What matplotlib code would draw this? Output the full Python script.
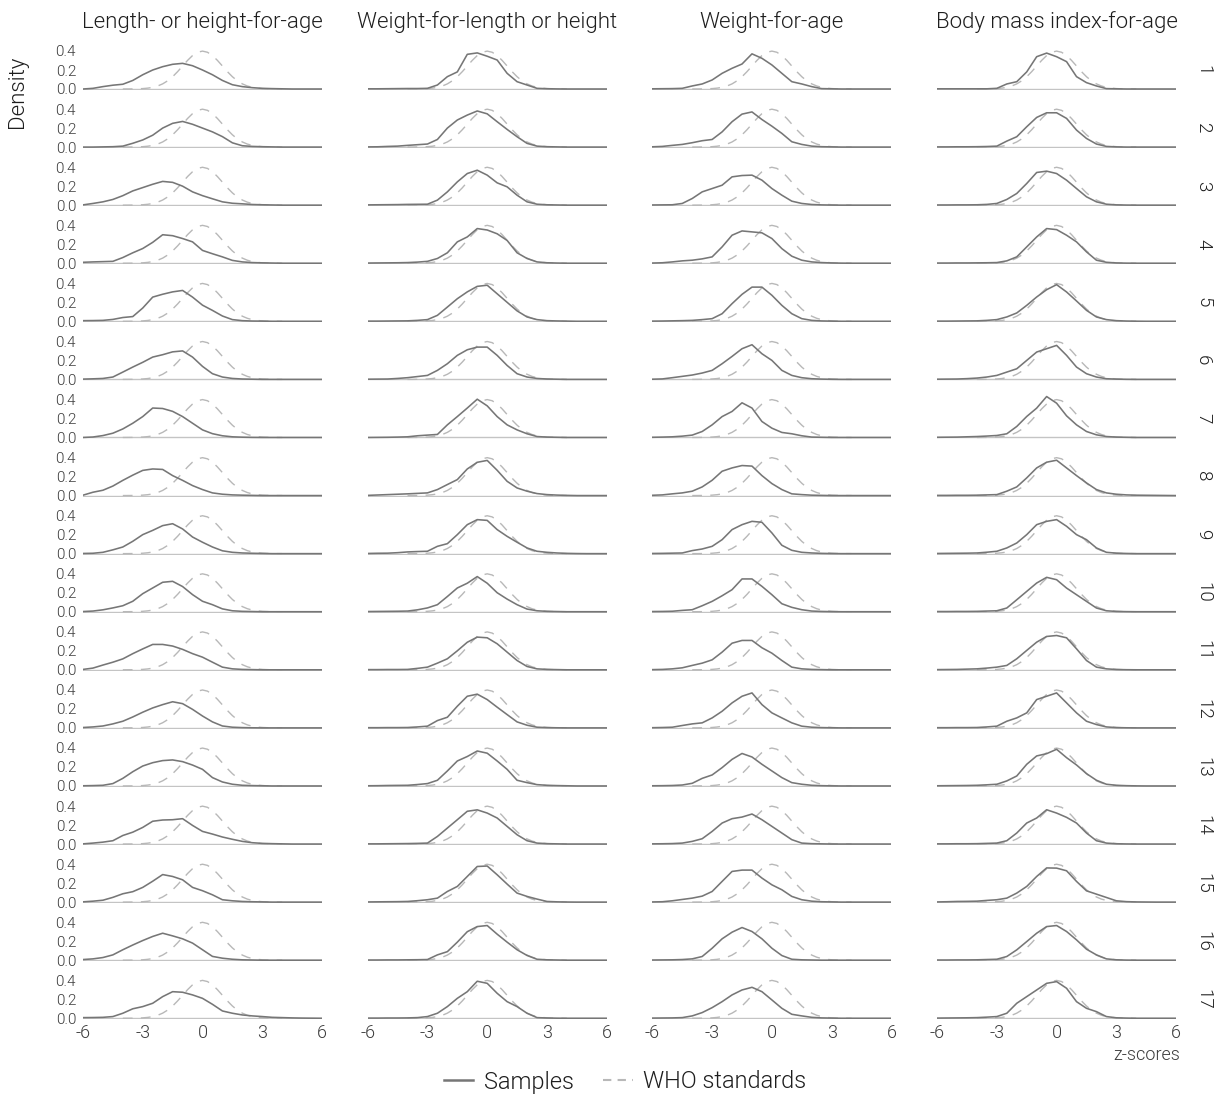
import matplotlib
matplotlib.use("Agg")
import matplotlib.pyplot as plt
from matplotlib.lines import Line2D

plt.rcParams['font.family'] = ['Roboto', 'DejaVu Sans']
plt.rcParams['font.weight'] = 300

# z-score grid shared by all sample density curves
z_grid = [-6, -5.5, -5, -4.5, -4, -3.5, -3, -2.5, -2, -1.5, -1, -0.5, 0,
          0.5, 1, 1.5, 2, 2.5, 3, 3.5, 4, 4.5, 5, 5.5, 6]

# WHO reference: standard normal density
who_z = [-4, -3.75, -3.5, -3.25, -3, -2.75, -2.5, -2.25, -2, -1.75, -1.5, -1.25,
         -1, -0.75, -0.5, -0.25, 0, 0.25, 0.5, 0.75, 1, 1.25, 1.5, 1.75, 2,
         2.25, 2.5, 2.75, 3, 3.25, 3.5, 3.75, 4]
who_density = [0.0001, 0.0004, 0.0009, 0.002, 0.0044, 0.0091, 0.0175, 0.0317,
               0.054, 0.0863, 0.1295, 0.1826, 0.242, 0.3011, 0.3521, 0.3867,
               0.3989, 0.3867, 0.3521, 0.3011, 0.242, 0.1826, 0.1295, 0.0863,
               0.054, 0.0317, 0.0175, 0.0091, 0.0044, 0.002, 0.0009, 0.0004, 0.0001]

indicators = ["Length- or height-for-age", "Weight-for-length or height",
              "Weight-for-age", "Body mass index-for-age"]
groups = [str(i) for i in range(1, 18)]

# Sample densities, one row per group (1..17)
haz = [
    [0, .007, .025, .04, .05, .09, .15, .20, .235, .26, .27, .245, .20, .15, .09, .045, .025, .014, .007, .004, .002, 0, 0, 0, 0],
    [0, 0, .002, .004, .01, .04, .075, .125, .20, .25, .27, .24, .20, .16, .11, .045, .014, .007, .004, .002, 0, 0, 0, 0, 0],
    [.003, .018, .035, .06, .10, .15, .185, .22, .25, .24, .20, .14, .10, .067, .035, .02, .014, .007, .004, .002, 0, 0, 0, 0, 0],
    [.01, .014, .017, .02, .06, .11, .155, .22, .30, .29, .26, .225, .135, .10, .067, .03, .014, .007, .004, .002, 0, 0, 0, 0, 0],
    [.007, .008, .01, .02, .04, .05, .14, .255, .285, .31, .325, .255, .17, .115, .056, .018, .007, .003, .002, 0, 0, 0, 0, 0, 0],
    [.003, .006, .01, .025, .077, .13, .18, .235, .26, .29, .30, .235, .137, .06, .025, .01, .004, .002, 0, 0, 0, 0, 0, 0, 0],
    [0, .005, .02, .045, .09, .15, .22, .31, .305, .275, .22, .15, .08, .04, .018, .007, .003, .001, 0, 0, 0, 0, 0, 0, 0],
    [.004, .035, .056, .10, .16, .215, .265, .28, .275, .21, .16, .105, .063, .028, .014, .007, .004, .002, 0, 0, 0, 0, 0, 0, 0],
    [.002, .004, .014, .04, .07, .13, .20, .245, .295, .315, .26, .175, .12, .07, .03, .014, .007, .004, .002, 0, 0, 0, 0, 0, 0],
    [.002, .007, .02, .04, .063, .11, .19, .25, .31, .32, .265, .18, .11, .074, .03, .01, .004, .002, 0, 0, 0, 0, 0, 0, 0],
    [.004, .018, .05, .08, .115, .17, .22, .267, .267, .25, .215, .17, .133, .08, .028, .01, .004, .002, 0, 0, 0, 0, 0, 0, 0],
    [.004, .01, .02, .042, .07, .115, .165, .21, .245, .275, .255, .195, .125, .063, .02, .007, .003, .001, 0, 0, 0, 0, 0, 0, 0],
    [.002, .004, .007, .025, .08, .15, .21, .245, .267, .274, .256, .22, .175, .088, .042, .018, .007, .004, .002, 0, 0, 0, 0, 0, 0],
    [.002, .01, .02, .035, .09, .125, .175, .24, .253, .256, .267, .196, .133, .105, .074, .05, .028, .014, .007, .004, .002, 0, 0, 0, 0],
    [.003, .01, .02, .05, .088, .11, .155, .22, .29, .27, .235, .155, .12, .077, .025, .014, .007, .004, .002, 0, 0, 0, 0, 0, 0],
    [.007, .014, .028, .056, .11, .16, .207, .25, .284, .256, .225, .18, .11, .04, .021, .01, .004, .002, 0, 0, 0, 0, 0, 0, 0],
    [.007, .008, .01, .018, .053, .10, .123, .158, .228, .28, .274, .246, .21, .147, .077, .053, .035, .025, .018, .01, .007, .004, .002, .001, 0],
]

whz = [
    [.002, .002, .003, .004, .005, .005, .007, .042, .13, .18, .365, .38, .345, .305, .165, .077, .042, .007, .003, .001, 0, 0, 0, 0, 0],
    [.002, .003, .007, .01, .018, .025, .032, .08, .20, .285, .337, .38, .35, .267, .186, .109, .039, .01, .004, .002, 0, 0, 0, 0, 0],
    [.003, .004, .005, .006, .008, .009, .01, .053, .14, .245, .333, .368, .316, .235, .193, .105, .035, .01, .004, .002, 0, 0, 0, 0, 0],
    [.002, .003, .004, .005, .007, .012, .02, .05, .11, .225, .277, .365, .35, .31, .24, .11, .05, .014, .005, .002, 0, 0, 0, 0, 0],
    [.002, .002, .003, .004, .005, .01, .018, .063, .15, .238, .31, .368, .38, .29, .20, .11, .046, .018, .007, .004, .002, 0, 0, 0, 0],
    [.002, .003, .004, .01, .018, .03, .042, .095, .165, .253, .312, .34, .34, .253, .147, .06, .025, .01, .004, .002, 0, 0, 0, 0, 0],
    [0, .001, .002, .004, .007, .018, .025, .032, .133, .22, .31, .403, .333, .22, .133, .08, .039, .01, .004, .002, 0, 0, 0, 0, 0],
    [.002, .006, .01, .014, .018, .023, .028, .063, .116, .168, .28, .35, .37, .266, .15, .08, .046, .021, .01, .005, .002, 0, 0, 0, 0],
    [.002, .004, .005, .01, .018, .022, .025, .077, .105, .20, .305, .358, .35, .253, .182, .12, .06, .025, .014, .007, .003, .001, 0, 0, 0],
    [.002, .003, .004, .005, .007, .02, .04, .074, .16, .25, .30, .37, .30, .20, .133, .074, .028, .01, .004, .002, 0, 0, 0, 0, 0],
    [.002, .002, .003, .003, .004, .015, .028, .07, .116, .20, .29, .344, .337, .274, .186, .098, .035, .01, .004, .002, 0, 0, 0, 0, 0],
    [.002, .002, .003, .003, .004, .01, .018, .077, .112, .228, .333, .355, .298, .218, .14, .063, .028, .007, .003, .001, 0, 0, 0, 0, 0],
    [.002, .003, .005, .006, .007, .015, .025, .06, .158, .263, .31, .368, .345, .263, .175, .06, .035, .014, .007, .004, .002, 0, 0, 0, 0],
    [.002, .002, .003, .004, .005, .007, .01, .08, .168, .256, .345, .36, .326, .274, .186, .098, .035, .01, .004, .002, 0, 0, 0, 0, 0],
    [.002, .003, .004, .005, .007, .015, .025, .042, .112, .165, .27, .375, .38, .288, .19, .095, .06, .032, .007, .003, .001, 0, 0, 0, 0],
    [.002, .002, .003, .003, .004, .005, .007, .056, .09, .19, .30, .354, .365, .274, .19, .11, .05, .01, .004, .002, 0, 0, 0, 0, 0],
    [.002, .002, .003, .003, .004, .007, .018, .053, .123, .21, .28, .39, .368, .263, .175, .123, .053, .007, .003, .001, 0, 0, 0, 0, 0],
]

waz = [
    [.002, .003, .004, .007, .032, .053, .095, .165, .218, .263, .37, .323, .253, .165, .077, .053, .025, .004, .002, 0, 0, 0, 0, 0, 0],
    [.003, .007, .018, .028, .046, .067, .08, .16, .267, .347, .37, .29, .22, .144, .056, .028, .01, .004, .002, 0, 0, 0, 0, 0, 0],
    [.002, .003, .004, .018, .07, .14, .175, .21, .298, .312, .316, .263, .175, .105, .042, .018, .007, .003, .001, 0, 0, 0, 0, 0, 0],
    [.002, .005, .014, .025, .032, .046, .067, .172, .295, .34, .33, .32, .26, .154, .074, .032, .014, .007, .003, .001, 0, 0, 0, 0, 0],
    [.002, .003, .005, .007, .01, .018, .028, .08, .186, .284, .36, .36, .274, .168, .08, .028, .01, .004, .002, 0, 0, 0, 0, 0, 0],
    [.002, .005, .018, .032, .046, .067, .095, .165, .242, .323, .365, .27, .20, .095, .042, .018, .007, .003, .001, 0, 0, 0, 0, 0, 0],
    [.002, .004, .007, .014, .025, .063, .133, .22, .274, .365, .31, .168, .098, .053, .039, .018, .004, .002, 0, 0, 0, 0, 0, 0, 0],
    [.003, .007, .018, .028, .046, .091, .161, .256, .291, .316, .31, .21, .126, .063, .018, .01, .004, .002, 0, 0, 0, 0, 0, 0, 0],
    [.002, .003, .005, .007, .032, .049, .077, .147, .253, .305, .34, .33, .218, .088, .035, .014, .007, .003, .001, 0, 0, 0, 0, 0, 0],
    [.002, .003, .005, .014, .021, .063, .109, .168, .232, .345, .345, .267, .179, .084, .046, .021, .007, .003, .001, 0, 0, 0, 0, 0, 0],
    [.002, .004, .01, .021, .046, .07, .105, .186, .28, .309, .309, .232, .175, .098, .028, .01, .004, .002, 0, 0, 0, 0, 0, 0, 0],
    [.002, .004, .007, .025, .042, .053, .105, .175, .263, .333, .368, .245, .158, .105, .053, .018, .007, .003, .001, 0, 0, 0, 0, 0, 0],
    [.002, .003, .005, .01, .028, .08, .116, .193, .28, .342, .305, .228, .158, .088, .035, .018, .007, .003, .001, 0, 0, 0, 0, 0, 0],
    [.002, .003, .005, .01, .028, .056, .133, .221, .267, .284, .316, .256, .186, .116, .046, .01, .004, .002, 0, 0, 0, 0, 0, 0, 0],
    [.002, .004, .014, .028, .042, .063, .112, .218, .323, .337, .337, .253, .182, .13, .06, .025, .01, .004, .002, 0, 0, 0, 0, 0, 0],
    [.002, .003, .004, .007, .014, .039, .126, .225, .295, .344, .302, .225, .126, .049, .01, .004, .002, 0, 0, 0, 0, 0, 0, 0, 0],
    [.002, .003, .004, .007, .025, .06, .112, .175, .246, .298, .326, .28, .193, .105, .042, .025, .01, .004, .002, 0, 0, 0, 0, 0, 0],
]

baz = [
    [.002, .002, .002, .002, .002, .002, .007, .053, .077, .18, .34, .378, .34, .288, .13, .067, .032, .004, .002, 0, 0, 0, 0, 0, 0],
    [.002, .002, .003, .003, .004, .006, .01, .063, .109, .214, .312, .361, .361, .302, .179, .091, .032, .007, .002, 0, 0, 0, 0, 0, 0],
    [.002, .002, .003, .003, .004, .008, .018, .06, .123, .228, .344, .358, .333, .263, .175, .088, .035, .01, .003, .001, 0, 0, 0, 0, 0],
    [.002, .002, .003, .003, .004, .005, .007, .025, .067, .172, .277, .365, .354, .295, .225, .12, .032, .01, .003, .001, 0, 0, 0, 0, 0],
    [.002, .002, .003, .004, .005, .01, .018, .046, .088, .168, .256, .333, .386, .309, .214, .116, .046, .018, .007, .003, .001, 0, 0, 0, 0],
    [.002, .003, .004, .008, .014, .025, .042, .077, .112, .20, .288, .323, .358, .253, .13, .06, .025, .007, .003, .001, 0, 0, 0, 0, 0],
    [.002, .003, .004, .007, .01, .015, .021, .039, .116, .221, .309, .431, .361, .228, .133, .063, .028, .01, .004, .002, 0, 0, 0, 0, 0],
    [.002, .002, .003, .003, .004, .007, .01, .046, .091, .186, .291, .351, .372, .291, .21, .133, .063, .028, .014, .007, .004, .003, .002, .001, 0],
    [.002, .003, .004, .005, .007, .015, .025, .06, .112, .20, .305, .34, .358, .288, .20, .147, .06, .014, .005, .002, 0, 0, 0, 0, 0],
    [.002, .002, .003, .003, .004, .007, .01, .039, .126, .214, .302, .362, .337, .249, .179, .109, .039, .01, .003, .001, 0, 0, 0, 0, 0],
    [.002, .003, .004, .007, .01, .018, .028, .046, .116, .204, .291, .351, .361, .337, .221, .098, .028, .01, .003, .001, 0, 0, 0, 0, 0],
    [.002, .002, .003, .003, .004, .01, .018, .07, .105, .158, .298, .333, .368, .263, .158, .07, .035, .01, .003, .001, 0, 0, 0, 0, 0],
    [.002, .003, .004, .005, .007, .012, .018, .053, .105, .228, .316, .34, .386, .298, .221, .13, .06, .018, .007, .003, .001, 0, 0, 0, 0],
    [.002, .002, .003, .003, .004, .007, .01, .035, .116, .221, .274, .361, .326, .281, .221, .116, .035, .01, .003, .001, 0, 0, 0, 0, 0],
    [.002, .004, .007, .008, .01, .018, .025, .042, .095, .165, .27, .36, .358, .33, .218, .119, .084, .049, .014, .005, .002, .001, 0, 0, 0],
    [.002, .002, .003, .003, .004, .007, .01, .039, .109, .196, .284, .354, .365, .302, .214, .116, .056, .014, .004, .001, 0, 0, 0, 0, 0],
    [.002, .003, .004, .005, .007, .012, .018, .053, .158, .228, .298, .368, .386, .316, .175, .105, .07, .018, .005, .002, 0, 0, 0, 0, 0],
]

samples = [haz, whz, waz, baz]

x_ticks = [-6, -3, 0, 3, 6]
x_tick_labels = ["-6", "-3", "0", "3", "6"]
y_ticks = [0.0, 0.2, 0.4]
y_tick_labels = ["0.0", "0.2", "0.4"]

SAMPLE_COLOR = "#767676"
WHO_COLOR = "#b8b8b8"
BASE_COLOR = "#c4c4c4"
TEXT_COLOR = "#1e1e1e"
TICK_COLOR = "#3c3c3c"

W, H = 1226, 1095
fig = plt.figure(figsize=(W / 100, H / 100), dpi=100)

# panel geometry in pixels
col_left0, col_step, col_width = 83, 284.7, 239
row_base0, row_step = 89, 58.08
px_per_unit = 95.0
y_lo, y_hi = -0.012, 0.5

n_rows = len(groups)
for c, rows in enumerate(samples):
    left = col_left0 + c * col_step
    for r, dens in enumerate(rows):
        base = row_base0 + r * row_step
        bottom_px = base - y_lo * px_per_unit
        height_px = (y_hi - y_lo) * px_per_unit
        ax = fig.add_axes([left / W, 1 - bottom_px / H, col_width / W, height_px / H])
        ax.set_xlim(-6, 6)
        ax.set_ylim(y_lo, y_hi)
        ax.axhline(0, color=BASE_COLOR, lw=1.0, zorder=1)
        ax.plot(who_z, who_density, color=WHO_COLOR, lw=1.0, dashes=(7, 6), zorder=2)
        ax.plot(z_grid, dens, color=SAMPLE_COLOR, lw=1.15, zorder=3,
                solid_joinstyle="round")
        for s in ax.spines.values():
            s.set_visible(False)
        ax.patch.set_alpha(0)
        ax.tick_params(length=0, colors=TICK_COLOR)
        if c == 0:
            ax.set_yticks(y_ticks)
            ax.set_yticklabels(y_tick_labels, fontsize=11, color=TICK_COLOR)
            ax.tick_params(axis="y", pad=5)
        else:
            ax.set_yticks([])
        if r == n_rows - 1:
            ax.set_xticks(x_ticks)
            ax.set_xticklabels(x_tick_labels, fontsize=13, color=TICK_COLOR)
            ax.tick_params(axis="x", pad=3)
        else:
            ax.set_xticks([])
        if c == len(samples) - 1:
            fig.text(1203 / W, 1 - (base - 19) / H, groups[r], rotation=270,
                     ha="center", va="center", fontsize=13.5, color=TEXT_COLOR)

# column headers
for c, title in enumerate(indicators):
    cx = col_left0 + c * col_step + col_width / 2
    fig.text(cx / W, 1 - 22 / H, title, ha="center", va="center",
             fontsize=16, color=TEXT_COLOR)

fig.text(18 / W, 1 - 92 / H, "Density", rotation=90, ha="center", va="center",
         fontsize=16, color=TEXT_COLOR)
fig.text(1180 / W, 1 - 1055 / H, "z-scores", ha="right", va="center",
         fontsize=13, color=TICK_COLOR)

handles = [Line2D([], [], color=SAMPLE_COLOR, lw=1.8),
           Line2D([], [], color=WHO_COLOR, lw=1.5, dashes=(4, 3))]
fig.legend(handles, ["Samples", "WHO standards"], loc="center",
           bbox_to_anchor=(625 / W, 1 - 1082 / H), ncol=2, frameon=False,
           fontsize=17, handlelength=1.25, columnspacing=1.25, handletextpad=0.45,
           labelcolor=TEXT_COLOR)

fig.savefig("out.png", dpi=100)
